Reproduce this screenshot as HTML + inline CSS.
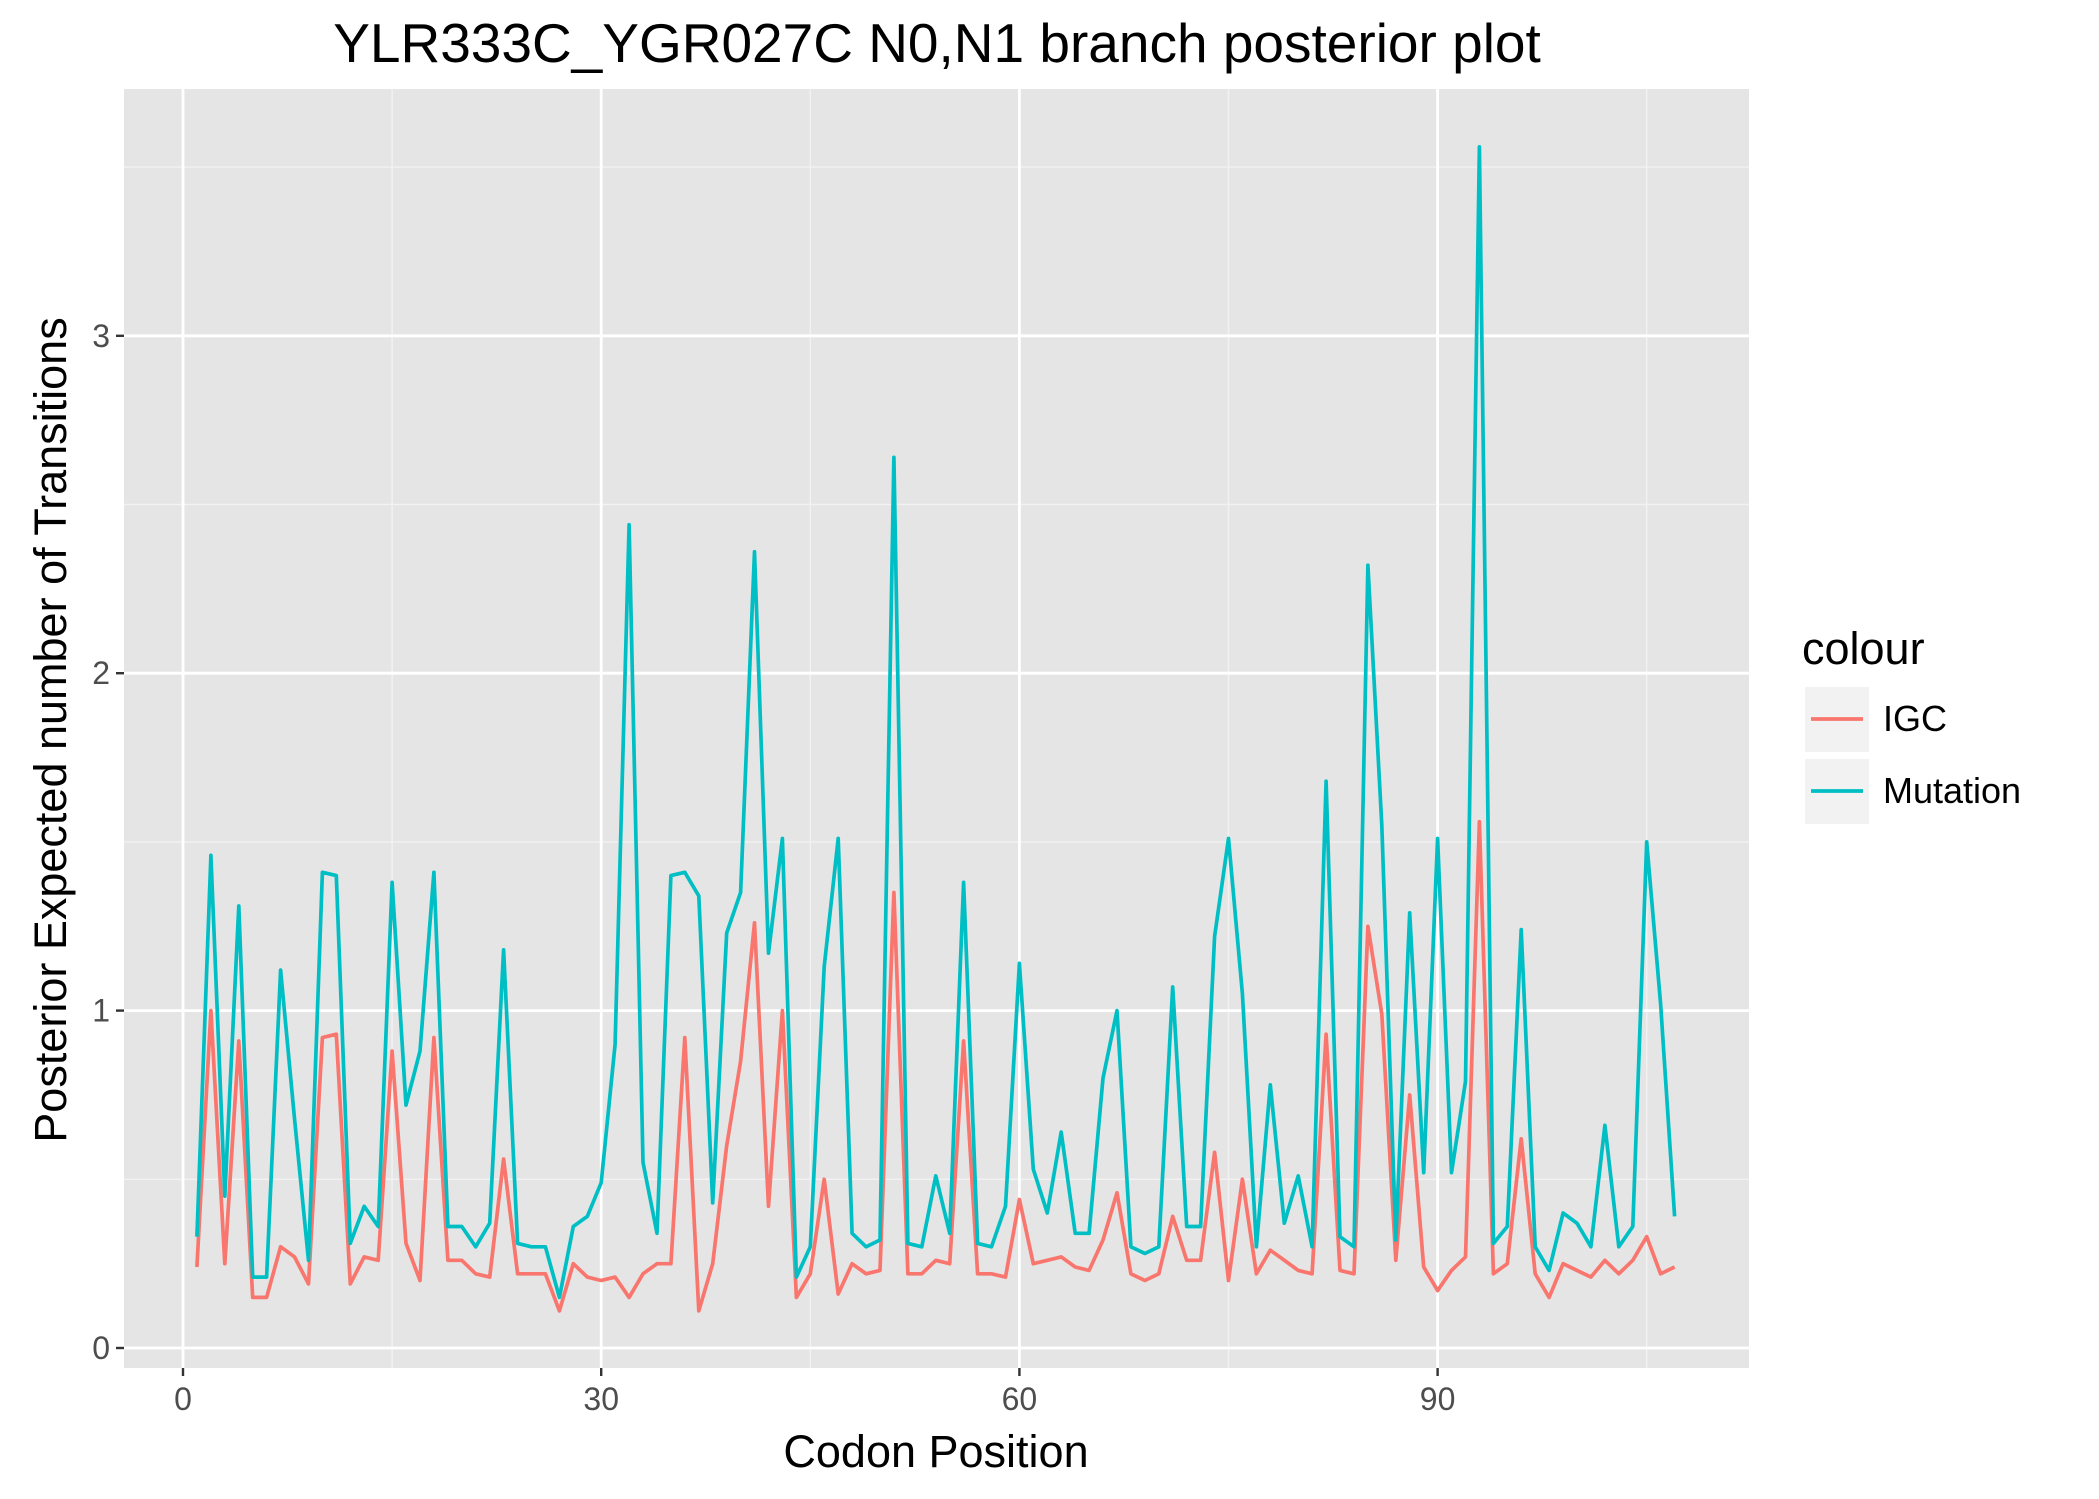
<!DOCTYPE html>
<html><head><meta charset="utf-8"><style>
body{margin:0;background:#fff;}
svg{display:block;font-family:"Liberation Sans",sans-serif;}
</style></head><body>
<svg id="chart" width="2099" height="1499" viewBox="0 0 2099 1499">
<rect x="0" y="0" width="2099" height="1499" fill="#fff"/>
<rect x="124" y="89" width="1625" height="1279" fill="#e5e5e5"/>
<text x="937" y="62" font-size="55" text-anchor="middle" fill="#000">YLR333C_YGR027C N0,N1 branch posterior plot</text>
<g id="grid"></g>
<g id="series"></g>
<g id="axes"></g>
<text x="936" y="1467" font-size="45" text-anchor="middle" fill="#000">Codon Position</text>
<text transform="translate(66,730) rotate(-90)" font-size="45" text-anchor="middle" fill="#000">Posterior Expected number of Transitions</text>
<g>
<text x="1802" y="664" font-size="45" fill="#000">colour</text>
<rect x="1805" y="687" width="64" height="65" fill="#f2f2f2"/>
<line x1="1811" y1="719" x2="1863" y2="719" stroke="#F8766D" stroke-width="3.7"/>
<text x="1883" y="731" font-size="36" fill="#000">IGC</text>
<rect x="1805" y="759" width="64" height="65" fill="#f2f2f2"/>
<line x1="1811" y1="791" x2="1863" y2="791" stroke="#00BFC4" stroke-width="3.7"/>
<text x="1883" y="803" font-size="36" fill="#000">Mutation</text>
</g>
</svg>
<script>
const mutation=[0.33,1.46,0.45,1.31,0.21,0.21,1.12,0.68,0.26,1.41,1.40,0.31,0.42,0.36,1.38,0.72,0.88,1.41,0.36,0.36,0.30,0.37,1.18,0.31,0.30,0.30,0.15,0.36,0.39,0.49,0.90,2.44,0.55,0.34,1.40,1.41,1.34,0.43,1.23,1.35,2.36,1.17,1.51,0.21,0.30,1.13,1.51,0.34,0.30,0.32,2.64,0.31,0.30,0.51,0.34,1.38,0.31,0.30,0.42,1.14,0.53,0.40,0.64,0.34,0.34,0.80,1.00,0.30,0.28,0.30,1.07,0.36,0.36,1.22,1.51,1.05,0.30,0.78,0.37,0.51,0.30,1.68,0.33,0.30,2.32,1.55,0.32,1.29,0.52,1.51,0.52,0.79,3.56,0.31,0.36,1.24,0.30,0.23,0.40,0.37,0.30,0.66,0.30,0.36,1.50,1.02,0.39];
const igc=[0.24,1.00,0.25,0.91,0.15,0.15,0.30,0.27,0.19,0.92,0.93,0.19,0.27,0.26,0.88,0.31,0.20,0.92,0.26,0.26,0.22,0.21,0.56,0.22,0.22,0.22,0.11,0.25,0.21,0.20,0.21,0.15,0.22,0.25,0.25,0.92,0.11,0.25,0.60,0.85,1.26,0.42,1.00,0.15,0.22,0.50,0.16,0.25,0.22,0.23,1.35,0.22,0.22,0.26,0.25,0.91,0.22,0.22,0.21,0.44,0.25,0.26,0.27,0.24,0.23,0.32,0.46,0.22,0.20,0.22,0.39,0.26,0.26,0.58,0.20,0.50,0.22,0.29,0.26,0.23,0.22,0.93,0.23,0.22,1.25,0.99,0.26,0.75,0.24,0.17,0.23,0.27,1.56,0.22,0.25,0.62,0.22,0.15,0.25,0.23,0.21,0.26,0.22,0.26,0.33,0.22,0.24];
const xTicks=[0,30,60,90];
const yTicks=[0,1,2,3];
const xMinor=[15,45,75,105];
const yMinor=[0.5,1.5,2.5,3.5];
const NS='http://www.w3.org/2000/svg';
const PX0=124,PX1=1749,PY0=89,PY1=1368;
function xs(v){return 183+v*13.94;}
function ys(v){return 1348-v*337.4;}
function mk(tag,attrs,parent){const e=document.createElementNS(NS,tag);for(const k in attrs)e.setAttribute(k,attrs[k]);parent.appendChild(e);return e;}
const grid=document.getElementById('grid'),axes=document.getElementById('axes'),ser=document.getElementById('series');
yMinor.forEach(v=>{const l=mk('line',{x1:PX0,x2:PX1,y1:ys(v),y2:ys(v),stroke:'#f2f2f2','stroke-width':1.4},grid);

});
xMinor.forEach(v=>{const l=mk('line',{x1:xs(v),x2:xs(v),y1:PY0,y2:PY1,stroke:'#f2f2f2','stroke-width':1.4},grid);

});
yTicks.forEach(v=>{const l=mk('line',{x1:PX0,x2:PX1,y1:ys(v),y2:ys(v),stroke:'#fff','stroke-width':2.8},grid);


const t=mk('line',{x1:PX0-8,x2:PX0,y1:ys(v),y2:ys(v),stroke:'#333','stroke-width':2.4},axes);


const tx=mk('text',{x:PX0-14,y:ys(v)+11,'font-size':32,'text-anchor':'end',fill:'#4d4d4d'},axes);tx.textContent=v;

});
xTicks.forEach(v=>{const l=mk('line',{x1:xs(v),x2:xs(v),y1:PY0,y2:PY1,stroke:'#fff','stroke-width':2.8},grid);


const t=mk('line',{x1:xs(v),x2:xs(v),y1:PY1,y2:PY1+8,stroke:'#333','stroke-width':2.4},axes);


const tx=mk('text',{x:xs(v),y:PY1+42,'font-size':32,'text-anchor':'middle',fill:'#4d4d4d'},axes);tx.textContent=v;

});
function line(data,color,name){const pts=data.map((v,i)=>xs(i+1).toFixed(1)+','+ys(v).toFixed(1)).join(' ');
const p=mk('polyline',{points:pts,fill:'none',stroke:color,'stroke-width':3.7,'stroke-linejoin':'round'},ser);

}
line(igc,'#F8766D','igc-line');
line(mutation,'#00BFC4','mutation-line');
</script>
</body></html>
